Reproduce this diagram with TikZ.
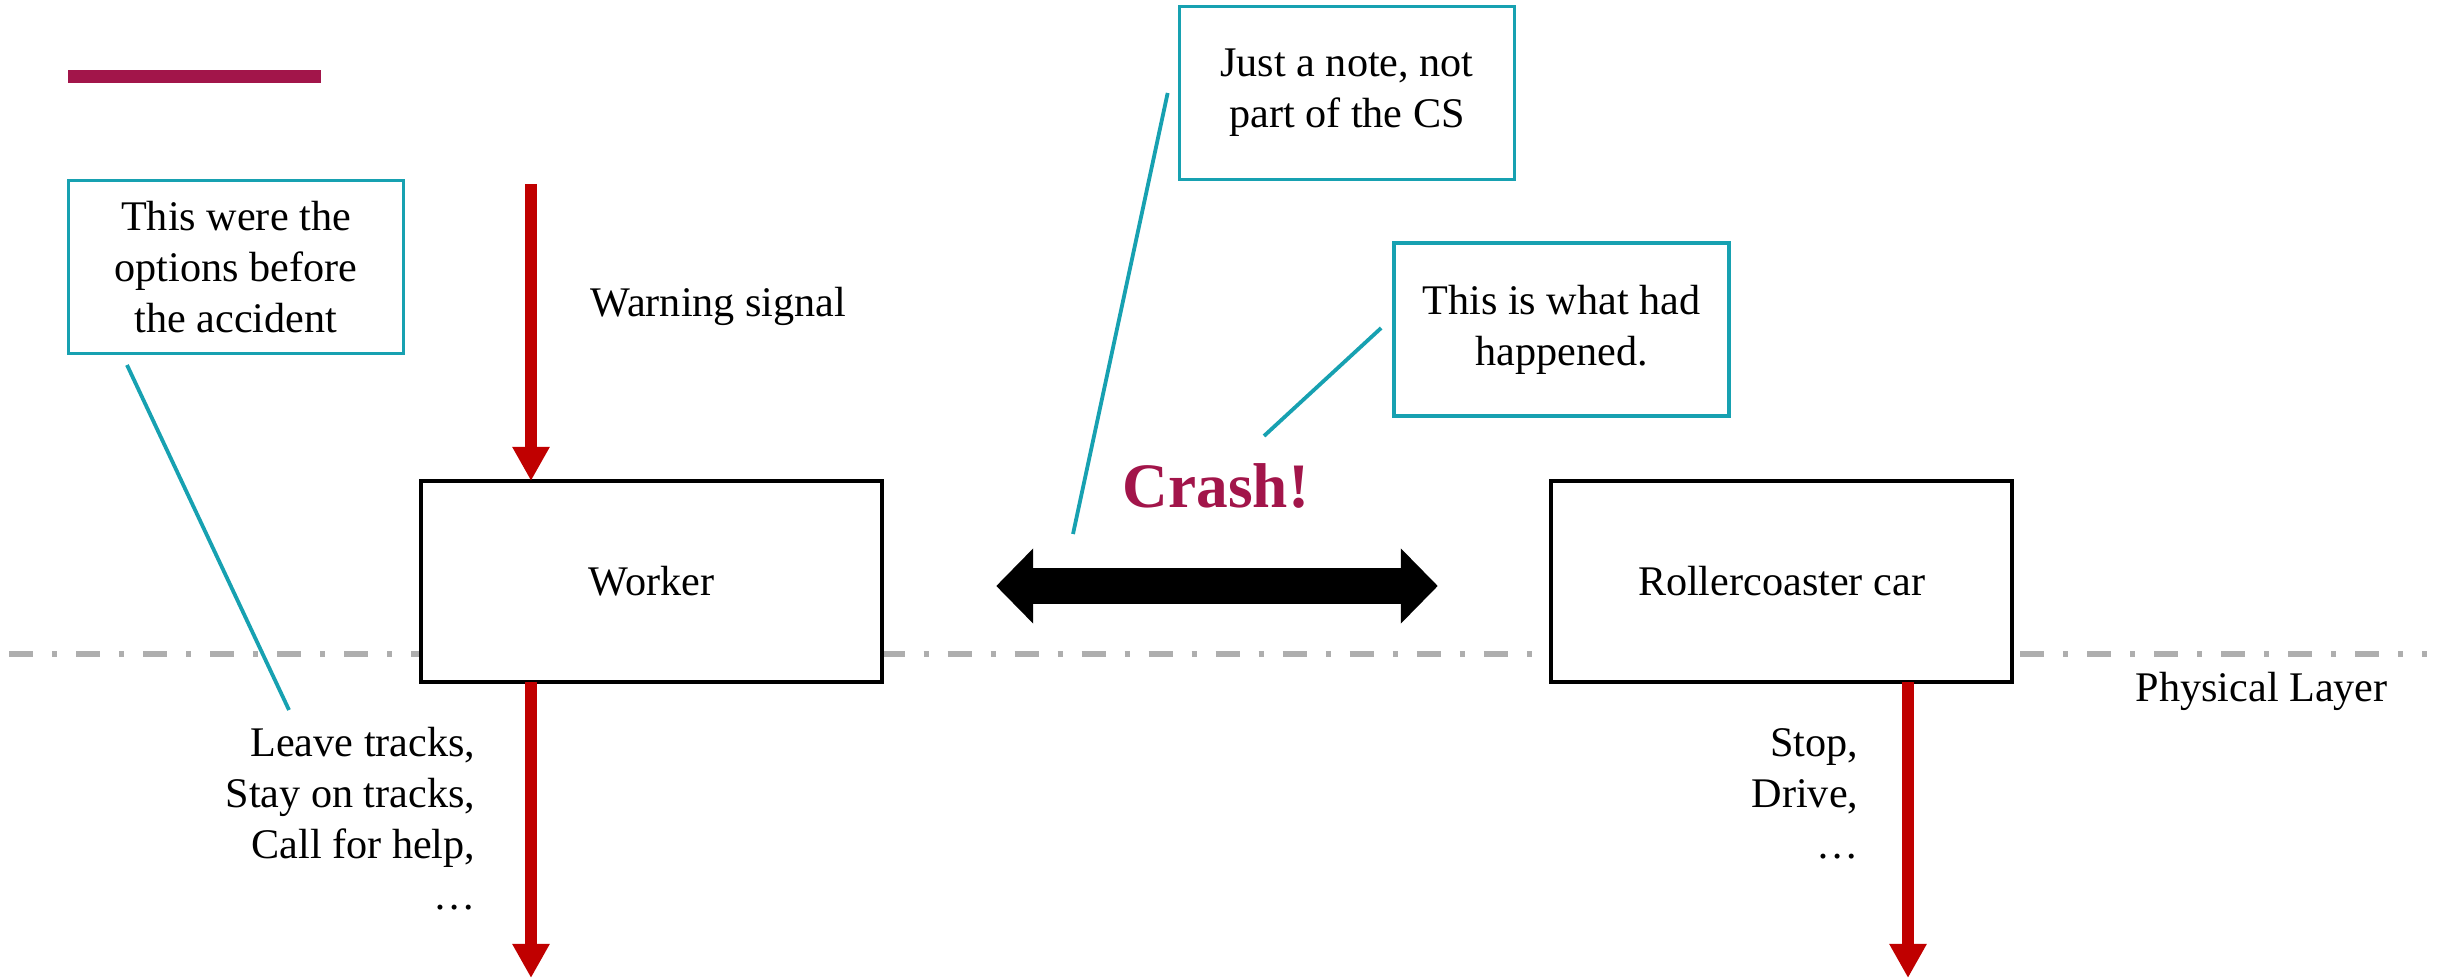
\documentclass[tikz,border=0pt]{standalone}
\usepackage{fontspec}
\setmainfont{Liberation Serif}
\usetikzlibrary{arrows.meta,calc}
\definecolor{notecol}{HTML}{17A1B1}
\definecolor{crashcol}{HTML}{A2154A}
\definecolor{flowred}{HTML}{C00000}
\definecolor{layergray}{HTML}{AEAEAE}

\begin{document}
\begin{tikzpicture}[x=0.01cm,y=-0.01cm,
  txt/.style={font=\fontsize{12}{14.5}\selectfont, inner sep=0pt},
  entity/.style={txt, draw=black, line width=0.4mm, fill=white, outer sep=0pt,
    minimum width=4.61cm, minimum height=2.01cm},
  notebox/.style={txt, draw=notecol, line width=0.35mm, fill=white, outer sep=0pt,
    minimum width=3.345cm, minimum height=1.725cm, align=center},
  leader/.style={draw=notecol, line width=0.38mm},
  flow/.style={draw=flowred, line width=1.2mm, -{Triangle[width=3.5mm,length=3.4mm]}},
  crash/.style={draw=black, line width=3.6mm,
    {Triangle[width=7.3mm,length=3.7mm]}-{Triangle[width=7.3mm,length=3.7mm]}},
  layer/.style={draw=layergray, line width=0.6mm,
    dash pattern=on 2.4mm off 1.9mm on 0.5mm off 1.9mm}
]
\fill[white] (0,0) rectangle (2440,980);
\useasboundingbox (0,0) rectangle (2440,980);

% title bar
\fill[crashcol] (68,70) rectangle (321,83);

% physical layer boundary
\coordinate (layerL) at (9,654);
\coordinate (layerR) at (2427,654);
\draw[layer] (layerL) -- (layerR);
\node[txt, anchor=base west] (layerlbl) at (2135,702) {Physical Layer};

% controlled entities
\node[entity] (worker) at (651.5,581.5) {Worker};
\node[entity] (car) at (1781.5,581.5) {Rollercoaster car};

% control inputs and outputs
\coordinate (warnsrc) at (531,184);
\draw[flow] (warnsrc) -- (warnsrc |- worker.north);
\node[txt, anchor=base west] (warnlbl) at (590,317) {Warning signal};

\coordinate (workerout) at (531,978);
\draw[flow] (workerout |- worker.south) -- (workerout);
% multi-line node: base anchor sits on the last line
\node[txt, align=right, anchor=base east] (workeropts) at (476,909)
  {Leave tracks,\\Stay on tracks,\\Call for help,\\\ldots};

\coordinate (carout) at (1908,978);
\draw[flow] (carout |- car.south) -- (carout);
\node[txt, align=right, anchor=base east] (caropts) at (1859,858)
  {Stop,\\Drive,\\\ldots};

% collision
\draw[crash, shorten <=1.14cm, shorten >=1.13cm]
  ($(worker.east)+(0,4.5)$) -- ($(car.west)+(0,4.5)$);
\node[font=\bfseries\fontsize{18}{20}\selectfont, text=crashcol, inner sep=0pt,
  anchor=base] (crashlbl) at (1216,508) {Crash!};

% annotations
\node[notebox] (note1) at (236,267) {This were the\\options before\\the accident};
\node[notebox] (note2) at (1347,93) {Just a note, not\\part of the CS};
\node[notebox] (note3) at (1561.5,329.5) {This is what had\\happened.};

\coordinate (n1a) at (127,365);
\coordinate (n1b) at (289,710);
\draw[leader] (n1a) -- (n1b);
\coordinate (n2b) at (1073,534);
\draw[leader] ($(note2.west)+(-12,0)$) -- (n2b);
\coordinate (n3b) at (1264,436);
\draw[leader] ($(note3.west)+(-13,-1.5)$) -- (n3b);
\end{tikzpicture}
\end{document}
